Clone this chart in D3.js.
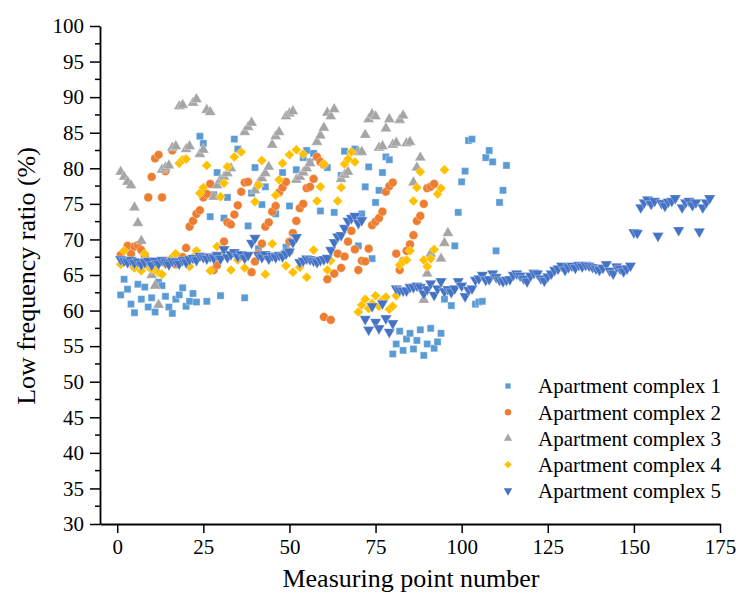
<!DOCTYPE html>
<html>
<head>
<meta charset="utf-8">
<script src="https://cdn.jsdelivr.net/npm/d3@7"></script>
<style>
  html, body { margin: 0; padding: 0; background: #fff; }
  svg { display: block; font-family: "Liberation Serif", "Times New Roman", serif; }
</style>
</head>
<body>
<svg id="chart" width="736" height="594"></svg>
<script>
// Low frequency ratio (%) at each measuring point, per apartment complex.
// Complexes 1-4: [measuring point, ratio]; complex 5: one value per point from 1.
const complex1 = [
  [1,62.2],[2,64.4],[3,63.0],[4,60.9],[5,59.7],[6,63.7],[7,61.6],[8,63.3],[9,60.5],[10,61.8],
  [11,59.8],[12,64.0],[13,63.5],[14,62.0],[15,60.5],[16,59.6],[17,61.6],[18,62.2],[19,63.2],[20,60.6],
  [21,61.3],[22,62.4],[23,61.2],[24,84.5],[25,83.5],[26,61.3],[27,73.2],[28,76.3],[29,79.4],[30,62.1],
  [31,73.0],[32,75.9],[34,84.1],[35,82.7],[37,61.8],[38,71.9],[39,76.5],[40,80.1],[41,68.7],[42,74.9],
  [43,77.4],[46,73.6],[48,79.4],[49,68.9],[50,74.7],[52,79.8],[54,81.5],[55,82.5],[56,80.9],[57,82.1],
  [59,74.0],[61,80.1],[63,73.8],[65,79.0],[66,82.4],[69,82.7],[70,69.1],[71,73.6],[72,77.4],[73,80.2],
  [74,67.3],[75,75.2],[76,76.9],[77,79.4],[78,81.6],[79,81.2],[80,53.9],[81,55.3],[82,57.1],[83,54.4],
  [84,56.0],[85,56.8],[86,54.6],[87,55.8],[88,57.3],[89,53.7],[90,55.3],[91,57.5],[92,54.7],[93,55.6],
  [94,56.8],[95,61.6],[97,60.7],[98,69.1],[99,73.8],[100,78.1],[101,79.6],[102,83.9],[103,84.1],[104,60.9],
  [105,61.2],[106,61.3],[107,81.5],[108,82.5],[109,80.9],[110,68.4],[111,75.2],[112,76.9],[113,80.4]
];
const complex2 = [
  [1,67.8],[2,67.0],[3,69.1],[4,68.0],[5,69.0],[6,69.2],[7,68.5],[8,67.7],[9,75.9],[10,78.8],
  [11,81.4],[12,81.9],[13,75.9],[14,79.6],[15,67.0],[16,82.5],[17,66.5],[18,66.8],[19,67.5],[20,68.8],
  [21,71.8],[22,72.6],[23,73.6],[24,74.1],[25,75.9],[26,76.4],[27,77.8],[28,65.7],[29,66.4],[30,67.5],
  [31,69.7],[32,72.4],[33,72.1],[34,73.5],[35,74.8],[36,76.7],[37,78.0],[38,78.1],[39,65.4],[40,66.9],
  [41,68.0],[42,69.4],[43,71.8],[44,72.4],[45,73.9],[46,74.7],[47,76.6],[48,77.3],[49,78.1],[50,69.7],
  [50,68.3],[51,70.9],[52,72.6],[53,74.4],[54,75.0],[55,77.2],[56,77.4],[57,78.5],[58,81.6],[59,80.9],
  [60,80.5],[60,59.1],[61,64.4],[62,58.7],[63,65.2],[64,68.0],[65,66.0],[66,67.6],[67,69.7],[68,71.2],
  [69,68.6],[70,65.7],[71,67.0],[72,66.9],[73,68.7],[74,72.0],[75,72.5],[76,73.0],[77,73.9],[78,76.7],
  [79,77.5],[80,78.0],[81,68.0],[82,65.7],[83,67.0],[84,68.4],[85,69.3],[86,70.6],[87,72.6],[88,73.3],
  [89,75.0],[90,77.2],[91,77.4],[92,77.8]
];
const complex3 = [
  [1,79.5],[2,78.8],[3,78.1],[4,77.6],[5,74.5],[6,72.3],[7,69.8],[10,65.0],[11,63.5],[12,60.8],
  [13,79.8],[14,80.1],[15,80.4],[16,82.9],[17,83.1],[18,88.7],[19,88.9],[20,82.7],[21,83.1],[22,89.2],
  [23,89.7],[24,82.0],[25,82.6],[26,88.2],[27,87.9],[28,76.0],[29,77.6],[30,78.4],[31,78.8],[32,79.3],
  [33,80.0],[37,85.1],[38,85.8],[39,86.4],[40,76.9],[41,77.9],[42,78.6],[43,79.3],[44,80.2],[45,83.3],
  [46,84.5],[47,85.1],[49,87.3],[50,87.7],[51,88.0],[52,78.4],[53,78.8],[54,79.4],[55,80.0],[56,80.7],
  [58,83.7],[59,84.6],[60,85.7],[61,87.8],[62,87.3],[63,88.3],[65,78.5],[66,79.1],[67,79.5],[70,82.3],
  [71,82.3],[72,84.7],[73,86.9],[74,87.6],[75,87.3],[76,82.9],[77,83.1],[78,85.6],[79,86.9],[80,83.3],
  [81,83.6],[82,86.8],[83,87.4],[84,83.5],[85,83.7],[86,78.0],[87,80.1],[88,81.5],[89,61.5],[90,65.2],
  [91,68.0],[94,67.3],[95,69.5],[96,70.9]
];
const complex4 = [
  [1,66.5],[2,68.4],[3,67.0],[4,66.5],[5,66.0],[6,66.8],[7,65.6],[8,68.0],[9,66.2],[10,65.8],
  [11,66.0],[12,65.3],[13,65.1],[14,66.5],[15,67.0],[16,67.5],[17,68.0],[18,80.7],[19,81.2],[20,81.3],
  [21,66.2],[22,67.5],[23,68.4],[24,76.5],[25,77.3],[26,80.4],[27,65.6],[29,69.0],[30,76.0],[31,77.9],
  [32,80.2],[33,65.7],[34,81.6],[35,67.1],[36,82.3],[37,66.0],[40,75.3],[41,77.6],[42,81.1],[43,65.1],
  [45,69.4],[46,76.2],[47,78.4],[48,80.7],[49,66.3],[50,81.9],[51,65.4],[52,82.6],[53,66.1],[54,82.0],
  [55,64.7],[57,68.5],[58,75.4],[59,77.4],[60,80.6],[61,65.7],[62,67.0],[64,75.4],[65,77.3],[66,80.6],
  [67,81.3],[68,82.3],[69,80.9],[70,59.8],[71,60.8],[72,61.6],[73,60.3],[74,61.0],[75,62.1],[76,60.6],
  [77,61.5],[78,61.9],[79,60.2],[80,60.6],[81,62.1],[82,66.4],[83,66.9],[84,67.1],[85,68.4],[86,75.4],
  [87,77.3],[88,79.5],[89,67.1],[90,66.2],[91,67.3],[92,68.6],[93,76.4],[94,77.2],[95,79.8]
];
const complex5 = [
  67.2,67.0,66.8,67.1,66.7,66.9,66.5,66.8,67.0,66.4,
  67.0,66.6,67.1,66.8,66.5,67.0,66.9,66.6,67.1,66.8,
  67.2,67.4,67.1,67.7,67.5,67.3,67.6,67.4,67.8,67.3,
  68.6,67.5,67.9,68.2,67.6,67.9,67.4,67.8,69.5,70.2,
  67.8,67.5,67.9,67.3,67.7,67.5,67.8,67.6,68.0,68.3,
  69.6,70.3,66.8,67.0,67.3,67.2,67.0,66.8,67.1,67.2,
  67.4,68.5,69.6,70.4,70.6,71.6,72.6,73.0,73.3,72.3,
  72.7,58.8,57.3,60.6,58.4,57.5,61.0,58.9,57.0,58.2,
  63.1,62.9,62.8,62.8,63.3,63.3,63.5,63.3,62.4,63.0,
  63.8,62.2,63.1,64.1,62.7,63.0,62.6,63.1,64.1,63.5,
  62.0,62.9,63.1,64.3,64.5,65.0,64.3,64.4,65.2,64.7,
  64.3,64.1,64.3,64.4,65.0,65.2,64.9,64.5,64.1,64.9,
  65.3,65.2,64.5,64.2,64.8,65.2,65.7,65.9,66.3,65.7,
  66.1,66.3,66.0,66.4,66.2,66.4,66.3,66.1,65.9,65.7,
  66.0,66.5,65.6,65.2,66.2,65.9,65.5,65.9,66.3,71.0,
  70.9,74.5,75.2,75.6,75.0,75.4,70.5,75.1,74.7,75.3,
  75.4,75.8,71.3,74.5,75.2,75.4,74.8,75.2,71.1,74.5,
  75.2,75.8
];

const seriesNames = ["Apartment complex 1","Apartment complex 2","Apartment complex 3","Apartment complex 4","Apartment complex 5"];
const seriesColors = ["#5B9BD5","#ED7D31","#A5A5A5","#FFC000","#4472C4"];
const xTicks = [0,25,50,75,100,125,150,175];
const yTicks = [30,35,40,45,50,55,60,65,70,75,80,85,90,95,100];
const xTitle = "Measuring point number";
const yTitle = "Low frequency ratio (%)";

const svg = d3.select("#chart");
const x = d3.scaleLinear().domain([-5, 175]).range([100, 720]);
const y = d3.scaleLinear().domain([30, 100]).range([524, 26]);

// marker shapes: square, circle, triangle, diamond (rotated square), inverted triangle
const shapes = [
  {type: d3.symbolSquare, size: 50, rot: 0},
  {type: d3.symbolCircle, size: 60, rot: 0},
  {type: d3.symbolTriangle, size: 54, rot: 0},
  {type: d3.symbolSquare, size: 50, rot: 45},
  {type: d3.symbolTriangle, size: 56, rot: 180}
];

const allSeries = [
  complex1,
  complex2,
  complex3,
  complex4,
  complex5.map((v, i) => [i + 1, v])
];

const plot = svg.append("g");
allSeries.forEach((data, si) => {
  const s = shapes[si];
  const path = d3.symbol().type(s.type).size(s.size)();
  plot.append("g").selectAll("path")
    .data(data)
    .join("path")
    .attr("d", path)
    .attr("transform", d => `translate(${x(d[0])},${y(d[1])}) rotate(${s.rot})`)
    .attr("fill", seriesColors[si])
    .attr("stroke", "#ffffff")
    .attr("stroke-opacity", 0.55)
    .attr("stroke-width", 0.6);
});

// axes
const xAxis = svg.append("g")
  .attr("transform", "translate(0,524)")
  .call(d3.axisBottom(x).tickValues(xTicks).tickSize(9).tickPadding(6).tickSizeOuter(0));
const yAxis = svg.append("g")
  .attr("transform", "translate(100,0)")
  .call(d3.axisLeft(y).tickValues(yTicks).tickSize(10).tickPadding(6).tickSizeOuter(0));

// minor y ticks halfway between labelled ones
const minor = d3.range(32.5, 100, 5);
yAxis.append("g").selectAll("line")
  .data(minor)
  .join("line")
  .attr("x1", -5).attr("x2", 0)
  .attr("y1", d => y(d)).attr("y2", d => y(d))
  .attr("stroke", "#000").attr("stroke-width", 1.5);

[xAxis, yAxis].forEach(a => {
  a.select(".domain").attr("stroke", "#000").attr("stroke-width", 1.8);
  a.selectAll(".tick line").attr("stroke", "#000").attr("stroke-width", 1.5);
  a.selectAll(".tick text")
    .attr("fill", "#000")
    .style("font-family", '"Liberation Serif", "Times New Roman", serif')
    .style("font-size", "21px");
});

// axis titles
svg.append("text")
  .attr("x", 411).attr("y", 587)
  .attr("text-anchor", "middle")
  .style("font-size", "26px")
  .text(xTitle);
svg.append("text")
  .attr("transform", "translate(35,276) rotate(-90)")
  .attr("text-anchor", "middle")
  .style("font-size", "26px")
  .text(yTitle);

// legend
const legend = svg.append("g");
seriesNames.forEach((name, i) => {
  const cy = 386 + i * 26.2;
  const s = shapes[i];
  legend.append("path")
    .attr("d", d3.symbol().type(s.type).size(s.size * 0.55)())
    .attr("transform", `translate(508,${cy}) rotate(${s.rot})`)
    .attr("fill", seriesColors[i]);
  legend.append("text")
    .attr("x", 538).attr("y", cy)
    .attr("dy", "0.35em")
    .style("font-size", "21px")
    .text(name);
});
</script>
</body>
</html>
